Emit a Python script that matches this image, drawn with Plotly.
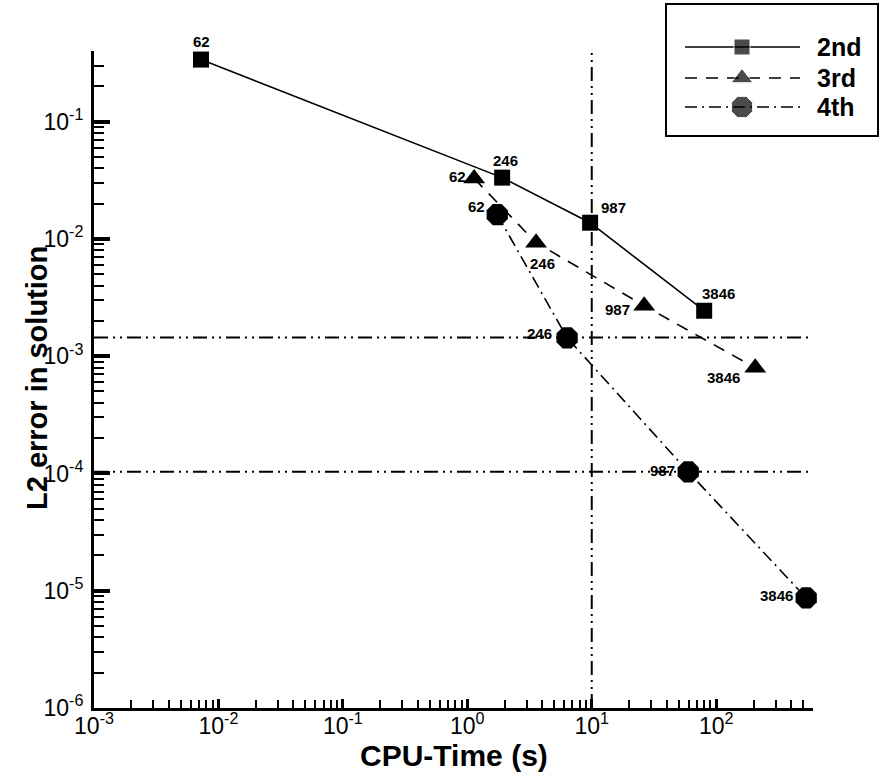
import numpy as np
import plotly.graph_objects as go

# ---------------- data ----------------
series_names = ["2nd", "3rd", "4th"]
cpu_2nd = [0.00724, 1.905, 9.7, 80.1]
err_2nd = [0.338, 0.0333, 0.01374, 0.00244]
cpu_3rd = [1.135, 3.57, 26.4, 206.0]
err_3rd = [0.0327, 0.00929, 0.00269, 0.000796]
cpu_4th = [1.74, 6.34, 59.6, 529.0]
err_4th = [0.0161, 0.001435, 0.0001033, 8.69e-6]
point_labels = ["62", "246", "987", "3846"]

ref_x = [10.0]                 # vertical reference line (CPU time)
ref_y = [1.44e-3, 1.035e-4]    # horizontal reference lines (error)

x_major = [1e-3, 1e-2, 1e-1, 1e0, 1e1, 1e2]
x_major_text = ["10<sup>-3</sup>", "10<sup>-2</sup>", "10<sup>-1</sup>",
                "10<sup>0</sup>", "10<sup>1</sup>", "10<sup>2</sup>"]
y_major = [1e-6, 1e-5, 1e-4, 1e-3, 1e-2, 1e-1]
y_major_text = ["10<sup>-6</sup>", "10<sup>-5</sup>", "10<sup>-4</sup>",
                "10<sup>-3</sup>", "10<sup>-2</sup>", "10<sup>-1</sup>"]
x_min, x_max = 1e-3, 600.0
y_min, y_max = 1e-6, 0.4

# ---------------- layout geometry (pixels) ----------------
W, H = 880, 776
ML, MR, MT, MB = 5, 3, 5, 5
PW, PH = W - ML - MR, H - MT - MB
L, R, T, B = 94, 813, 51, 708


def px_x(p):
    return (p - ML) / PW


def px_y(p):
    return (H - MB - p) / PH


FONT = "Liberation Sans, Arial, sans-serif"

styles = [
    dict(symbol="square", size=16, dash="solid"),
    dict(symbol="triangle-up", size=19, dash="12px,9px"),
    dict(symbol="octagon", size=23, dash="12px,5px,2px,5px"),
]
# label offsets (pixels) relative to each marker
label_dx = [[1, 3, 23, 14], [-17, 6, -27, -32], [-21, -28, -26, -30]]
label_dy = [[18, 17, 15, 17], [2, -21, -4, -10], [8, 4, 1, 2]]

fig = go.Figure()

# reference lines
refdash = "14px,5px,2px,5px,2px,5px"
for yv in ref_y:
    fig.add_trace(go.Scatter(x=[x_min, x_max], y=[yv, yv], mode="lines",
                             line=dict(color="black", width=2, dash=refdash),
                             showlegend=False, hoverinfo="skip"))
for xv in ref_x:
    fig.add_trace(go.Scatter(x=[xv, xv], y=[y_min, y_max], mode="lines",
                             line=dict(color="black", width=2, dash=refdash),
                             showlegend=False, hoverinfo="skip"))

all_x = [cpu_2nd, cpu_3rd, cpu_4th]
all_y = [err_2nd, err_3rd, err_4th]
annotations = []
for i, name in enumerate(series_names):
    st = styles[i]
    fig.add_trace(go.Scatter(
        x=all_x[i], y=all_y[i], mode="lines+markers", name=name,
        line=dict(color="black", width=1.6, dash=st["dash"]),
        marker=dict(symbol=st["symbol"], size=st["size"], color="black"),
        showlegend=False, cliponaxis=False))
    for j, lab in enumerate(point_labels):
        annotations.append(dict(
            x=np.log10(all_x[i][j]), y=np.log10(all_y[i][j]), xref="x", yref="y",
            text=lab, showarrow=False, xshift=label_dx[i][j], yshift=label_dy[i][j],
            font=dict(family=FONT, size=15, color="black", weight="bold")))

# legend drawn on an auxiliary axis pair (pixel coordinates)
LX0, LX1, LY0, LY1 = 667, 877, 5, 135
leg_rows = [47, 78, 107]
for i, name in enumerate(series_names):
    st = styles[i]
    fig.add_trace(go.Scatter(
        x=[685, 742, 800], y=[leg_rows[i]] * 3, mode="lines+markers",
        line=dict(color="black", width=1.6, dash=st["dash"]),
        marker=dict(symbol=st["symbol"], size=[0, st["size"], 0], color="black"),
        xaxis="x2", yaxis="y2", showlegend=False, hoverinfo="skip", cliponaxis=False))
    annotations.append(dict(
        x=815, y=leg_rows[i], xref="x2", yref="y2", text=name, showarrow=False,
        xanchor="left", yanchor="middle",
        font=dict(family=FONT, size=25, color="black", weight="bold")))

# axis titles
annotations.append(dict(
    x=px_x((L + R) / 2), y=px_y(755), xref="paper", yref="paper",
    text="CPU-Time (s)", showarrow=False, xanchor="center", yanchor="middle",
    font=dict(family=FONT, size=30, color="black", weight="bold")))
annotations.append(dict(
    x=px_x(37), y=px_y(378), xref="paper", yref="paper",
    text="L2 error in solution", showarrow=False, textangle=-90,
    xanchor="center", yanchor="middle",
    font=dict(family=FONT, size=29, color="black", weight="bold")))

x_minor = [m * 10.0 ** e for e in range(-3, 3) for m in range(2, 10) if m * 10.0 ** e <= x_max]
y_minor = [m * 10.0 ** e for e in range(-6, 0) for m in range(2, 10) if m * 10.0 ** e <= y_max]

fig.update_layout(
    width=W, height=H,
    margin=dict(l=ML, r=MR, t=MT, b=MB, autoexpand=False),
    paper_bgcolor="white", plot_bgcolor="white",
    font=dict(family=FONT, color="black"),
    showlegend=False,
    annotations=annotations,
    xaxis=dict(
        type="log", range=[np.log10(x_min), np.log10(x_max)],
        domain=[px_x(L), px_x(R)], anchor="y", automargin=False,
        showline=True, linecolor="black", linewidth=3, mirror=False,
        showgrid=False, zeroline=False,
        tickmode="array", tickvals=x_major, ticktext=x_major_text,
        ticks="inside", ticklen=9, tickwidth=3, tickcolor="black",
        ticklabelstandoff=-5,
        tickfont=dict(family=FONT, size=23, color="black"),
        minor=dict(tickmode="array", tickvals=x_minor, ticks="inside",
                   ticklen=8, tickwidth=1.5, tickcolor="black", showgrid=False),
    ),
    yaxis=dict(
        type="log", range=[np.log10(y_min), np.log10(y_max)],
        domain=[px_y(B), px_y(T)], anchor="x", automargin=False,
        showline=True, linecolor="black", linewidth=3, mirror=False,
        showgrid=False, zeroline=False,
        tickmode="array", tickvals=y_major, ticktext=y_major_text,
        ticks="inside", ticklen=16, tickwidth=4, tickcolor="black",
        ticklabelstandoff=3,
        tickfont=dict(family=FONT, size=23, color="black"),
        minor=dict(tickmode="array", tickvals=y_minor, ticks="inside",
                   ticklen=10, tickwidth=2, tickcolor="black", showgrid=False),
    ),
    xaxis2=dict(
        domain=[px_x(LX0), px_x(LX1)], range=[LX0, LX1], anchor="y2", automargin=False,
        showline=True, mirror=True, linecolor="black", linewidth=2,
        showgrid=False, zeroline=False, showticklabels=False, ticks="",
    ),
    yaxis2=dict(
        domain=[px_y(LY1), px_y(LY0)], range=[LY1, LY0], anchor="x2", automargin=False,
        showline=True, mirror=True, linecolor="black", linewidth=2,
        showgrid=False, zeroline=False, showticklabels=False, ticks="",
    ),
)

fig.write_html(
    "out.html",
    config={"displayModeBar": False},
    post_script="document.body.style.margin='0';document.body.style.overflow='hidden';",
)
